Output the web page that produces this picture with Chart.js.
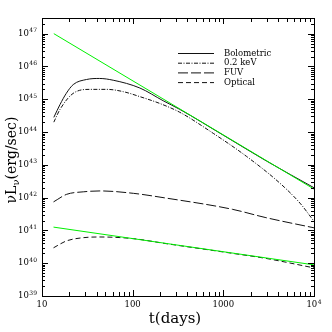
<!DOCTYPE html>
<html>
<head>
<meta charset="utf-8">
<script src="https://cdn.jsdelivr.net/npm/chart.js@4"></script>
<style>
  body { margin: 0; background: #fff; }
  canvas { display: block; }
</style>
</head>
<body>
<canvas id="lcChart" width="332" height="332"></canvas>
<script>
// values: time in days, luminosity in erg/sec
const bolTime = [13.5, 15.8, 18.5, 22.1, 31, 43, 61, 120, 217, 331, 1000, 3000, 10000];
const bolLum = [2.8e44, 6.9e44, 1.5e45, 2.8e45, 4.0e45, 4.3e45, 3.8e45, 2.2e45, 9.0e44, 4.9e44, 8.0e43, 1.3e43, 2.0e42];

const softTime = [13.5, 15.8, 22, 34, 52, 79, 120, 200, 331, 775, 1806, 4210, 7000, 10000];
const softLum = [2.0e44, 4.9e44, 1.5e45, 2.0e45, 2.0e45, 1.7e45, 1.2e45, 7.4e44, 4.0e44, 9.1e43, 1.8e43, 2.75e42, 6.8e41, 1.9e41];

const fuvTime = [13.4, 18.7, 28.5, 43.6, 102, 227, 1260, 2950, 10000];
const fuvLum = [7.4e41, 1.26e42, 1.5e42, 1.6e42, 1.35e42, 9.8e41, 4.4e41, 2.45e41, 1.2e41];

const optTime = [13.4, 18.7, 28.5, 43.6, 102, 227, 1260, 2950, 10000];
const optLum = [2.95e40, 4.8e40, 6.0e40, 6.3e40, 5.6e40, 4.0e40, 2.0e40, 1.4e40, 7.2e39];

// green power-law guide lines (end points only)
const fitHighTime = [13.5, 10000];
const fitHighLum = [1.0e47, 1.82e42];
const fitLowTime = [13.4, 10000];
const fitLowLum = [1.26e41, 8.9e39];

// tick labels: base and exponent, exponent '' means plain number
const xTickValues = [10, 100, 1000, 10000];
const xTickBase = ['10', '100', '1000', '10'];
const xTickExp = ['', '', '', '4'];
const yTickValues = [1e39, 1e40, 1e41, 1e42, 1e43, 1e44, 1e45, 1e46, 1e47];
const yTickExp = ['39', '40', '41', '42', '43', '44', '45', '46', '47'];

const serif = "'DejaVu Serif', 'Liberation Serif', serif";

const toPoints = (xs, ys) => xs.map((t, i) => ({x: t, y: ys[i]}));

function curve(label, xs, ys, dash, color) {
    return {
        label: label,
        data: toPoints(xs, ys),
        borderColor: color || '#111',
        borderWidth: 1,
        borderDash: dash,
        pointRadius: 0,
        fill: false,
        cubicInterpolationMode: 'monotone'
    };
}

// frame with inward ticks on all four sides
const framePlugin = {
    id: 'frame',
    afterDatasetsDraw(chart) {
        const {ctx, chartArea: a, scales: {x, y}} = chart;
        ctx.save();
        ctx.strokeStyle = '#000';
        ctx.lineWidth = 1;
        ctx.beginPath();
        for (let d = 1; d <= 4; d++) {
            for (let m = 1; m <= 9; m++) {
                const v = m * Math.pow(10, d);
                if (v > 1e4) break;
                const px = Math.round(x.getPixelForValue(v)) + 0.5;
                const len = m === 1 ? 6 : 4;
                ctx.moveTo(px, a.bottom); ctx.lineTo(px, a.bottom - len);
                ctx.moveTo(px, a.top); ctx.lineTo(px, a.top + len);
            }
        }
        for (let d = 39; d <= 47; d++) {
            for (let m = 1; m <= 9; m++) {
                const v = m * Math.pow(10, d);
                if (v > y.max) break;
                const py = Math.round(y.getPixelForValue(v)) + 0.5;
                const len = m === 1 ? 6 : 3;
                ctx.moveTo(a.left, py); ctx.lineTo(a.left + len, py);
                ctx.moveTo(a.right, py); ctx.lineTo(a.right - len, py);
            }
        }
        ctx.stroke();
        ctx.strokeRect(Math.round(a.left) + 0.5, Math.round(a.top) + 0.5,
            Math.round(a.right - a.left), Math.round(a.bottom - a.top));
        ctx.restore();
    }
};

// "10" with a raised exponent
function powerLabel(ctx, base, exp, x, y, align) {
    const bigF = '8.5px ' + serif, smallF = '6px ' + serif;
    ctx.font = bigF;
    const wb = ctx.measureText(base).width;
    ctx.font = smallF;
    const we = exp ? ctx.measureText(exp).width + 0.5 : 0;
    let left = x;
    if (align === 'right') left = x - wb - we;
    if (align === 'center') left = x - (wb + we) / 2;
    ctx.textAlign = 'left';
    ctx.textBaseline = 'middle';
    ctx.font = bigF;
    ctx.fillText(base, left, y);
    if (exp) {
        ctx.font = smallF;
        ctx.fillText(exp, left + wb + 0.5, y - 3);
    }
}

const tickLabelPlugin = {
    id: 'tickLabels',
    afterDraw(chart) {
        const {ctx, chartArea: a, scales: {x, y}} = chart;
        ctx.save();
        ctx.fillStyle = '#000';
        xTickValues.forEach((v, i) => {
            powerLabel(ctx, xTickBase[i], xTickExp[i], x.getPixelForValue(v), a.bottom + 9, 'center');
        });
        yTickValues.forEach((v, i) => {
            powerLabel(ctx, '10', yTickExp[i], a.left - 5, y.getPixelForValue(v), 'right');
        });
        ctx.restore();
    }
};

// legend inside the plot, upper right
const legendPlugin = {
    id: 'innerLegend',
    afterDatasetsDraw(chart) {
        const {ctx, chartArea: a} = chart;
        const items = chart.data.datasets.filter(ds => ds.label);
        ctx.save();
        ctx.font = '8.5px ' + serif;
        ctx.fillStyle = '#000';
        ctx.textBaseline = 'middle';
        items.forEach((ds, i) => {
            const yy = a.top + 35.5 + i * 9.7;
            ctx.strokeStyle = ds.borderColor;
            ctx.lineWidth = 1;
            ctx.setLineDash(ds.borderDash || []);
            ctx.beginPath();
            ctx.moveTo(a.left + 136, yy);
            ctx.lineTo(a.left + 172, yy);
            ctx.stroke();
            ctx.fillText(ds.label, a.left + 182, yy);
        });
        ctx.restore();
    }
};

// axis titles, the y one needs a subscript
const titlePlugin = {
    id: 'axisTitles',
    afterDraw(chart) {
        const {ctx, chartArea: a} = chart;
        ctx.save();
        ctx.fillStyle = '#000';
        ctx.textBaseline = 'middle';
        ctx.textAlign = 'center';
        ctx.font = '15px ' + serif;
        ctx.fillText('t(days)', (a.left + a.right) / 2 - 3, 319);

        const big = '14px ' + serif, small = '10px ' + serif;
        ctx.font = big;
        const w1 = ctx.measureText('νL').width;
        const w3 = ctx.measureText('(erg/sec)').width;
        ctx.font = small;
        const w2 = ctx.measureText('ν').width;
        const total = w1 + w2 + w3;
        ctx.translate(12, (a.top + a.bottom) / 2 + 3);
        ctx.rotate(-Math.PI / 2);
        ctx.textAlign = 'left';
        let pos = -total / 2;
        ctx.font = big;
        ctx.fillText('νL', pos, 0);
        pos += w1;
        ctx.font = small;
        ctx.fillText('ν', pos, 4);
        pos += w2;
        ctx.font = big;
        ctx.fillText('(erg/sec)', pos, 0);
        ctx.restore();
    }
};

const ctx = document.getElementById('lcChart').getContext('2d');

const chart = new Chart(ctx, {
    type: 'line',
    data: {
        datasets: [
            curve(null, fitHighTime, fitHighLum, [], '#00f000'),
            curve(null, fitLowTime, fitLowLum, [], '#00f000'),
            curve('Bolometric', bolTime, bolLum, []),
            curve('0.2 keV', softTime, softLum, [4, 1.5, 1, 1.5]),
            curve('FUV', fuvTime, fuvLum, [10, 3]),
            curve('Optical', optTime, optLum, [5, 3])
        ]
    },
    options: {
        responsive: false,
        animation: false,
        layout: { padding: { top: 18, right: 18, left: 0, bottom: 0 } },
        plugins: {
            legend: { display: false },
            tooltip: { enabled: false }
        },
        scales: {
            x: {
                type: 'logarithmic',
                min: 10,
                max: 1e4,
                grid: { display: false },
                border: { display: false },
                ticks: { display: false },
                afterFit: s => { s.height = 36; }
            },
            y: {
                type: 'logarithmic',
                min: 1e39,
                max: 3e47,
                grid: { display: false },
                border: { display: false },
                ticks: { display: false },
                afterFit: s => { s.width = 42; }
            }
        }
    },
    plugins: [framePlugin, legendPlugin, tickLabelPlugin, titlePlugin]
});
</script>
</body>
</html>
